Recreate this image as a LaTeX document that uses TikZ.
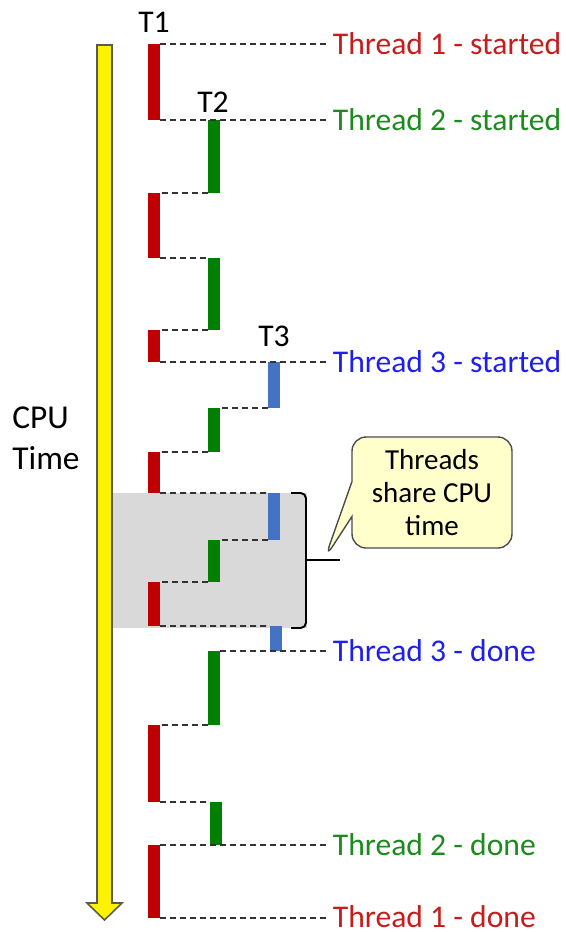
\documentclass[tikz,border=0pt]{standalone}
\usepackage{fontspec}
\setmainfont{Carlito}
\usetikzlibrary{
  fit,
  calc,
  shapes.callouts
}
\definecolor{redbar}{RGB}{192,0,0}
\definecolor{greenbar}{RGB}{0,128,0}
\definecolor{bluebar}{RGB}{68,114,196}
\definecolor{redtext}{RGB}{200,28,28}
\definecolor{greentext}{RGB}{28,138,28}
\definecolor{bluetext}{RGB}{30,30,238}
\definecolor{notefill}{RGB}{255,255,204}
\definecolor{sharegray}{RGB}{217,217,217}

\begin{document}
\begin{tikzpicture}[
  x=0.02cm, y=-0.02cm,
  every node/.style={font=\fontsize{18}{23.3}\selectfont},
  bar/.style={inner sep=0pt, outer sep=0pt, draw=none},
  link/.style={dash pattern=on 3.4pt off 2.3pt, line width=0.9pt, black!80},
  event/.style={anchor=west, inner xsep=2pt, inner ysep=0pt}
]
\useasboundingbox (0,0) rectangle (565,932);

% shared time window
\fill[sharegray] (112,493) rectangle (307,628);

% CPU time axis
\draw[fill=yellow, draw=black!65, line width=0.9pt]
  (97,45) -- (112,45) -- (112,903) -- (122,903) -- (104.5,920)
  -- (87,903) -- (97,903) -- cycle;
\node[align=left, anchor=west, inner sep=0pt, font=\fontsize{19}{23.3}\selectfont]
  (cpu) at (12,438) {CPU\\Time};

% thread slices
\foreach \name/\col/\xa/\ya/\yb in {
    r1/redbar/148/44/120, g1/greenbar/208/120/193,
    r2/redbar/148/193/258, g2/greenbar/208/258/330,
    r3/redbar/148/330/362, b1/bluebar/268/362/408,
    g3/greenbar/208/408/452, r4/redbar/148/452/493,
    b2/bluebar/268/493/540, g4/greenbar/208/540/582,
    r5/redbar/148/582/626, b3/bluebar/270/626/651,
    g5/greenbar/208/651/725, r6/redbar/148/725/802,
    g6/greenbar/210/802/845, r7/redbar/148/845/918}
  \node[bar, fill=\col, fit={(\xa,\ya)(\xa+12,\yb)}] (\name) {};

\node (t1) at (154,22) {T1};
\node (t2) at (213,102) {T2};
\node (t3) at (274,336) {T3};

% events
\node[event, text=redtext] (l1s) at (329,44) {Thread 1 - started};
\node[event, text=greentext] (l2s) at (329,120) {Thread 2 - started};
\node[event, text=bluetext] (l3s) at (329,362) {Thread 3 - started};
\node[event, text=bluetext] (l3d) at (329,651) {Thread 3 - done};
\node[event, text=greentext] (l2d) at (329,845) {Thread 2 - done};
\node[event, text=redtext] (l1d) at (329,917) {Thread 1 - done};

% switches
\draw[link] (r1.north east) -- (r1.north east -| l1s.west);
\draw[link] (r1.south east) -- (r1.south east -| l2s.west);
\draw[link] (g1.south west) -- (r2.north east);
\draw[link] (r2.south east) -- (g2.north west);
\draw[link] (g2.south west) -- (r3.north east);
\draw[link] (r3.south east) -- (r3.south east -| l3s.west);
\draw[link] (b1.south west) -- (g3.north east);
\draw[link] (g3.south west) -- (r4.north east);
\draw[link] (r4.south east) -- (b2.north west);
\draw[link] (b2.south west) -- (g4.north east);
\draw[link] (g4.south west) -- (r5.north east);
\draw[link] (r5.south east) -- (b3.north west);
\draw[link] (g5.north east) -- (g5.north east -| l3d.west);
\draw[link] (g5.south west) -- (r6.north east);
\draw[link] (r6.south east) -- (g6.north west);
\draw[link] (r7.north east) -- (r7.north east -| l2d.west);
\draw[link] (r7.south east) -- (r7.south east -| l1d.west);

% bracket and note
\draw[line width=1.1pt, rounded corners=3pt]
  (291,493) -- (306,493) -- (306,628) -- (291,628);
\coordinate (bstem) at (306,560);
\coordinate (bend) at (340,560);
\draw[line width=1.1pt] (bstem) -- (bend);
\coordinate (btip) at (325,558);

\node[rectangle callout, rounded corners=8pt, fill=notefill, draw=black!70,
  line width=0.8pt, minimum width=3.2cm, minimum height=2.22cm,
  callout absolute pointer={(btip)}, callout pointer width=0.7cm,
  align=center, font=\fontsize{16.5}{18.8}\selectfont]
  (note) at (432,492.5) {Threads\\share CPU\\time};

\end{tikzpicture}
\end{document}
